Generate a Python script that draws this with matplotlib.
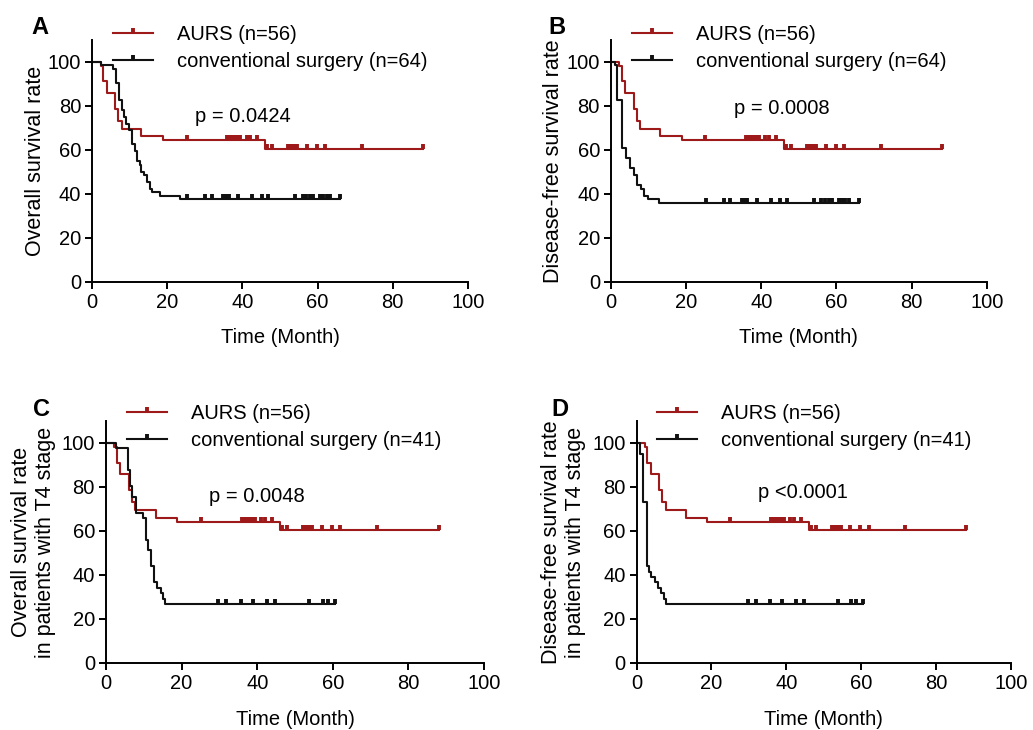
import numpy as np
import matplotlib
matplotlib.use('Agg')
import matplotlib.pyplot as plt
from matplotlib.markers import TICKUP
from matplotlib.lines import Line2D

plt.rcParams['font.family'] = ['Liberation Sans', 'DejaVu Sans']
plt.rcParams['font.size'] = 14.5

RED = '#9E1A1A'
BLACK = '#111111'

# AURS group (n=56), same curve in all four panels
aurs_t = [2.2, 2.9, 3.8, 6.0, 6.9, 7.8, 13.1, 18.9, 46.0]
aurs_s = [98.2, 91.1, 85.7, 78.6, 73.2, 69.6, 66.1, 64.3, 60.3]
aurs_cens = [25.1, 35.9, 36.5, 37.2, 37.9, 38.6, 39.3, 41.1, 42.0, 43.8,
             46.5, 47.8, 52.1, 52.9, 53.7, 54.5, 57.1, 59.8, 62.0, 71.8, 88.0]

# conventional surgery (n=64), overall survival
conv_os_t = [2.3, 5.6, 6.3, 7.1, 7.9, 8.5, 9.0, 9.8, 10.6, 11.3, 11.9, 12.6,
             13.1, 13.8, 14.5, 15.3, 15.8, 18.0, 23.4]
conv_os_s = [98.4, 96.9, 90.6, 82.8, 78.1, 75.0, 71.9, 68.8, 62.5, 59.4, 54.7,
             53.1, 50.0, 48.4, 45.3, 42.2, 40.6, 39.1, 37.5]
# conventional surgery (n=64), disease-free survival
conv_dfs_t = [1.1, 1.7, 2.8, 3.9, 5.0, 6.1, 7.0, 7.9, 8.8, 9.9, 12.8]
conv_dfs_s = [98.4, 82.8, 60.9, 56.3, 51.6, 48.4, 43.8, 42.2, 39.1, 37.5, 35.9]
conv_cens = [25.2, 30.0, 31.8, 34.9, 35.6, 36.3, 38.9, 42.5, 45.1, 46.9, 54.0,
             56.0, 56.9, 57.9, 58.8, 60.7, 61.5, 62.4, 63.3, 66.0]

# conventional surgery, T4 stage (n=41)
t4_os_t = [2.6, 5.7, 6.4, 7.0, 7.9, 9.9, 10.5, 11.2, 12.0, 12.8, 13.6, 14.5,
           15.2, 15.7]
t4_os_s = [97.6, 87.8, 80.5, 75.6, 68.3, 65.9, 56.1, 51.2, 43.9, 36.6, 34.1,
           31.7, 29.3, 26.8]
t4_dfs_t = [0.9, 1.8, 2.7, 3.3, 4.0, 4.9, 5.8, 6.6, 7.4, 8.0]
t4_dfs_s = [95.1, 73.2, 43.9, 41.5, 39.0, 36.6, 34.1, 31.7, 29.3, 26.8]
t4_cens = [29.7, 31.8, 35.7, 38.8, 42.6, 44.6, 53.8, 57.4, 58.6, 60.6]

panels = [
    # letter, axes rect (px: left, top, right, bottom), conv data, n, ylabel, p text
    ('A', (92.3, 39.9, 467.7, 281.5), conv_os_t, conv_os_s, conv_cens, 64,
     'Overall survival rate', 'p = 0.0424'),
    ('B', (611.0, 39.9, 986.7, 281.5), conv_dfs_t, conv_dfs_s, conv_cens, 64,
     'Disease-free survival rate', 'p = 0.0008'),
    ('C', (106.0, 421.0, 484.0, 663.0), t4_os_t, t4_os_s, t4_cens, 41,
     'Overall survival rate\nin patients with T4 stage', 'p = 0.0048'),
    ('D', (636.5, 421.0, 1011.0, 663.0), t4_dfs_t, t4_dfs_s, t4_cens, 41,
     'Disease-free survival rate\nin patients with T4 stage', 'p <0.0001'),
]
letter_pos = {'A': (40, 28), 'B': (557, 28), 'C': (42, 409), 'D': (560, 409)}
legend_pos = {'A': (113, 25), 'B': (632, 25), 'C': (127, 404), 'D': (657, 404)}
ptext_pos = {'A': (243, 116), 'B': (782, 108), 'C': (257, 497), 'D': (803, 492)}

W, H = 1033, 730
fig = plt.figure(figsize=(W / 100, H / 100), dpi=100)


def km_xy(t, s, cens):
    end = max(cens[-1], t[-1])
    x = np.r_[0, t, end]
    y = np.r_[100, s, s[-1]]
    return x, y


def level_at(t, s, c):
    idx = np.searchsorted(t, c, side='right')
    return np.r_[100, s][idx]


for letter, (l, tp, r, b), ct, cs, cc, n, ylab, ptxt in panels:
    ax = fig.add_axes([l / W, 1 - b / H, (r - l) / W, (b - tp) / H])

    # AURS
    x, y = km_xy(aurs_t, aurs_s, aurs_cens)
    ax.plot(x, y, drawstyle='steps-post', color=RED, lw=1.5)
    ax.plot(aurs_cens, level_at(aurs_t, aurs_s, aurs_cens), ls='none',
            marker=TICKUP, ms=3.5, mew=2.8, color=RED)
    # conventional
    x, y = km_xy(ct, cs, cc)
    ax.plot(x, y, drawstyle='steps-post', color=BLACK, lw=1.5)
    ax.plot(cc, level_at(ct, cs, cc), ls='none',
            marker=TICKUP, ms=3.5, mew=2.8, color=BLACK)

    ax.set_xlim(0, 100)
    ax.set_ylim(0, 110)
    ax.set_xticks(range(0, 101, 20))
    ax.set_yticks(range(0, 101, 20))
    for sp in ['top', 'right']:
        ax.spines[sp].set_visible(False)
    for sp in ['left', 'bottom']:
        ax.spines[sp].set_linewidth(1.4)
    ax.tick_params(direction='out', length=5, width=1.4, pad=3)
    ax.set_xlabel('Time (Month)', labelpad=12)
    two_line = '\n' in ylab
    ax.set_ylabel(ylab, fontsize=15.5, labelpad=4 if two_line else 1.5,
                  linespacing=1.2)

    handles = [
        Line2D([], [], color=RED, lw=1.5, marker=TICKUP, ms=3.5, mew=2.8),
        Line2D([], [], color=BLACK, lw=1.5, marker=TICKUP, ms=3.5, mew=2.8),
    ]
    lx, ly = legend_pos[letter]
    ax.legend(handles, ['AURS (n=56)', 'conventional surgery (n=%d)' % n],
              loc='upper left', bbox_to_anchor=(lx / W, 1 - ly / H),
              bbox_transform=fig.transFigure, frameon=False, numpoints=1,
              handlelength=2.0, handletextpad=1.2, labelspacing=0.4,
              borderpad=0, borderaxespad=0)

    px, py = ptext_pos[letter]
    fig.text(px / W, 1 - py / H, ptxt, ha='center', va='center')
    fx, fy = letter_pos[letter]
    fig.text(fx / W, 1 - fy / H, letter, ha='center', va='center',
             fontsize=17, fontweight='bold')

fig.savefig('out.png', dpi=100)
